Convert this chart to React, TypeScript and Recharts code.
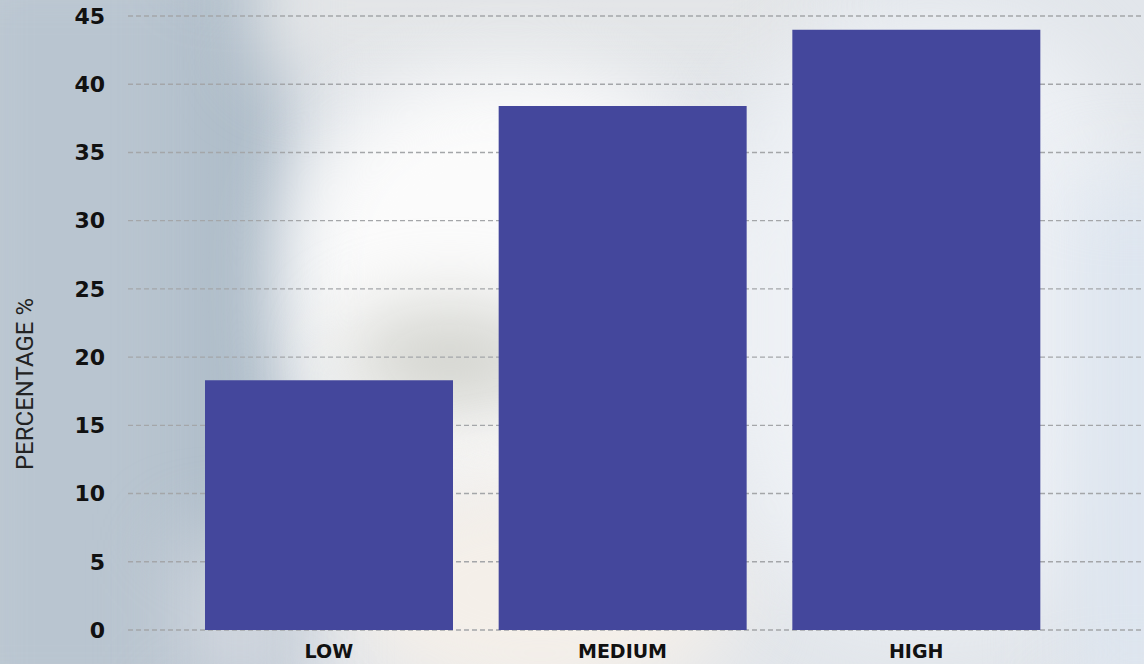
import React from 'react';
import { BarChart, Bar, XAxis, YAxis, CartesianGrid, Label } from 'recharts';

const categories = ['LOW', 'MEDIUM', 'HIGH'];
const percentages = [18.3, 38.4, 44.0];
const yTicks = [0, 5, 10, 15, 20, 25, 30, 35, 40, 45];

const data = categories.map((name, i) => ({ name, value: percentages[i] }));

const W = 1144;
const H = 664;

// soft blurred backdrop behind the chart
const blobs: React.CSSProperties[] = [
  { left: -60, top: -60, width: 320, height: 800, background: '#b9c5d0' },
  { left: 205, top: -40, width: 70, height: 760, background: '#a5b5c3' },
  { left: 260, top: -60, width: 560, height: 130, background: '#e3e5e7' },
  { left: 290, top: 70, width: 440, height: 430, background: '#fbfbfb', borderRadius: '45%' },
  { left: 340, top: 310, width: 220, height: 100, background: '#cfd0ca', borderRadius: '50%' },
  { left: 340, top: 470, width: 400, height: 240, background: '#f4efe9', borderRadius: '50%' },
  { left: 720, top: 20, width: 420, height: 600, background: '#eef1f5', borderRadius: '40%' },
  { left: 1070, top: 180, width: 130, height: 520, background: '#dde5ef' },
  { left: 180, top: 540, width: 120, height: 160, background: '#d3d8e0' },
];

const App: React.FC = () => {
  return (
    <div
      style={{
        position: 'fixed',
        left: 0,
        top: 0,
        width: W,
        height: H,
        overflow: 'hidden',
        background: '#e2e6eb',
      }}
    >
      {blobs.map((b, i) => (
        <div key={i} style={{ position: 'absolute', filter: 'blur(40px)', ...b }} />
      ))}
      <div style={{ position: 'absolute', left: 0, top: 0 }}>
        <BarChart
          width={W}
          height={H}
          data={data}
          margin={{ top: 16, right: 0, bottom: 0, left: 0 }}
        >
          <CartesianGrid
            vertical={false}
            stroke="#a4a6a9"
            strokeWidth={1.4}
            strokeDasharray="5 3"
          />
          <XAxis
            dataKey="name"
            axisLine={false}
            tickLine={false}
            height={34}
            tickMargin={9}
            padding={{ left: 54, right: 81 }}
            tick={{
              fill: '#111',
              fontSize: 19,
              fontWeight: 700,
              fontFamily: 'DejaVu Sans',
            }}
          />
          <YAxis
            width={128}
            domain={[0, 45]}
            ticks={yTicks}
            interval={0}
            axisLine={false}
            tickLine={false}
            tickMargin={17}
            tick={{
              fill: '#111',
              fontSize: 22,
              fontWeight: 700,
              fontFamily: 'DejaVu Sans',
            }}
          >
            <Label
              content={() => (
                <text
                  x={25}
                  y={384}
                  transform="rotate(-90, 25, 384)"
                  textAnchor="middle"
                  dominantBaseline="central"
                  fill="#222"
                  fontSize={24}
                  fontWeight={400}
                  fontFamily="Roboto"
                >
                  PERCENTAGE %
                </text>
              )}
            />
          </YAxis>
          <Bar dataKey="value" fill="#44479c" barSize={248} isAnimationActive={false} />
        </BarChart>
      </div>
    </div>
  );
};

export default App;
